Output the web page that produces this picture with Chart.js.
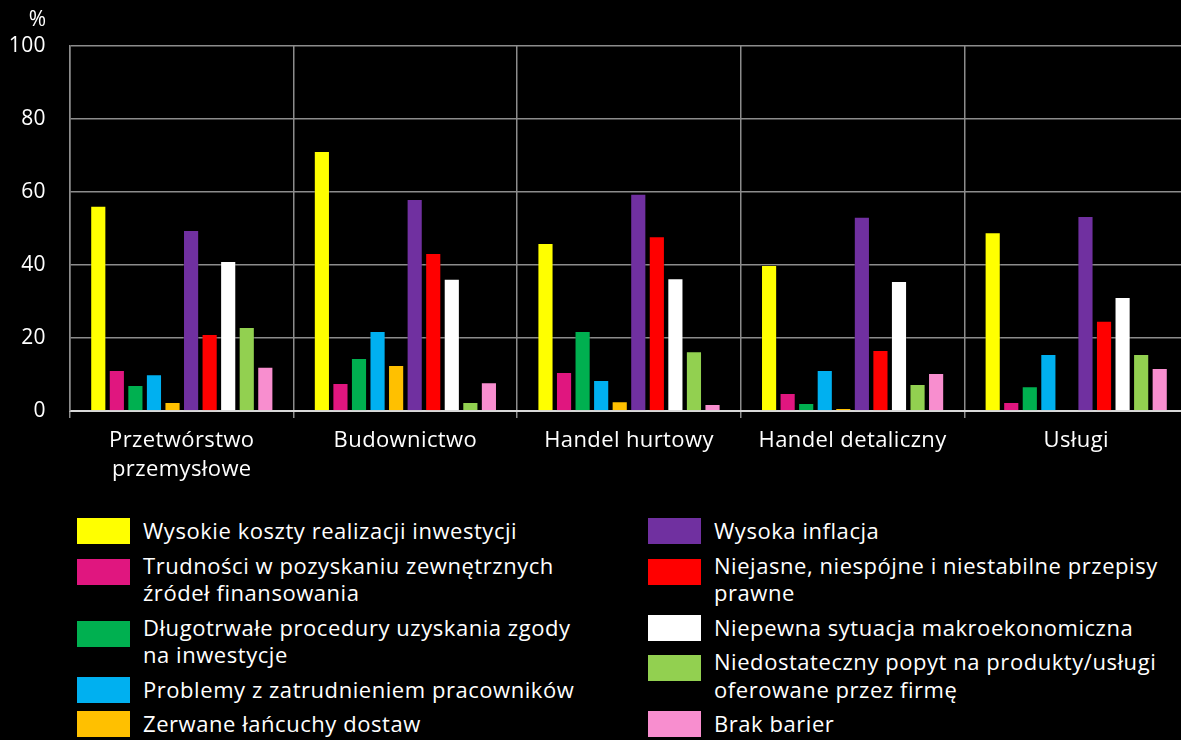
<!DOCTYPE html>
<html>
<head>
<meta charset="utf-8">
<script src="https://cdn.jsdelivr.net/npm/chart.js@4.4.1/dist/chart.umd.min.js"></script>
<style>
  html, body { margin: 0; padding: 0; background: #000; }
  body { width: 1181px; height: 740px; position: relative; overflow: hidden; font-family: "Open Sans", sans-serif; color: #fff; }
  #wrap { position: absolute; left: 0; top: 0; width: 1188px; height: 500px; }
  .legcol { position: absolute; top: 517px; display: flex; flex-direction: column; gap: 7px; }
  .item { display: flex; align-items: flex-start; }
  .sw { width: 53px; height: 26px; flex: none; margin-top: 1px; }
  .item.two .sw { margin-top: 7px; }
  .lbl { font-size: 22px; letter-spacing: 0.55px; line-height: 27.5px; margin-left: 13px; white-space: nowrap; }
</style>
</head>
<body>
<div id="wrap"><canvas id="c"></canvas></div>
<div id="legL" class="legcol" style="left:77px"></div>
<div id="legR" class="legcol" style="left:648px"></div>
<script>
const categories = [["Przetwórstwo", "przemysłowe"], "Budownictwo", "Handel hurtowy", "Handel detaliczny", "Usługi"];
const yTicks = [0, 20, 40, 60, 80, 100];
const seriesLabels = [
  ["Wysokie koszty realizacji inwestycji"],
  ["Trudności w pozyskaniu zewnętrznych", "źródeł finansowania"],
  ["Długotrwałe procedury uzyskania zgody", "na inwestycje"],
  ["Problemy z zatrudnieniem pracowników"],
  ["Zerwane łańcuchy dostaw"],
  ["Wysoka inflacja"],
  ["Niejasne, niespójne i niestabilne przepisy", "prawne"],
  ["Niepewna sytuacja makroekonomiczna"],
  ["Niedostateczny popyt na produkty/usługi", "oferowane przez firmę"],
  ["Brak barier"]
];
const wysokieKoszty   = [56.2, 71.2, 46.0, 40.0, 49.0];
const trudnosciFin    = [11.2, 7.7, 10.7, 4.9, 2.5];
const procedury       = [7.1, 14.5, 21.9, 2.2, 6.8];
const zatrudnienie    = [10.1, 21.9, 8.5, 11.2, 15.6];
const lancuchy        = [2.5, 12.6, 2.7, 0.8, 0];
const inflacja        = [49.6, 58.1, 59.5, 53.2, 53.4];
const przepisy        = [21.1, 43.3, 47.9, 16.7, 24.7];
const makro           = [41.1, 36.2, 36.4, 35.6, 31.2];
const popyt           = [23.0, 2.5, 16.4, 7.4, 15.6];
const brakBarier      = [12.1, 7.9, 1.9, 10.4, 11.8];
const seriesValues = [wysokieKoszty, trudnosciFin, procedury, zatrudnienie, lancuchy, inflacja, przepisy, makro, popyt, brakBarier];
const colors = ["#FFFF00", "#E0167F", "#00B050", "#00B0F0", "#FFC000", "#7030A0", "#FF0000", "#FFFFFF", "#92D050", "#F88ECF"];

const datasets = seriesValues.map((vals, i) => ({
  label: seriesLabels[i].join(" "),
  data: vals,
  backgroundColor: colors[i],
  borderColor: "rgba(0,0,0,0.25)",
  borderWidth: 1,
  barPercentage: 0.87,
  categoryPercentage: 0.83
}));

const unitPlugin = {
  id: "unit",
  beforeDraw(chart) {
    if ("letterSpacing" in chart.ctx) chart.ctx.letterSpacing = "0.4px";
  },
  afterDraw(chart) {
    const ctx = chart.ctx;
    ctx.save();
    ctx.letterSpacing = "0px";
    ctx.fillStyle = "#fff";
    ctx.font = '21px "Open Sans"';
    ctx.textAlign = "right";
    ctx.textBaseline = "middle";
    ctx.fillText("%", 46, 20);
    ctx.restore();
  }
};

Chart.defaults.font.family = '"Open Sans", sans-serif';
Chart.defaults.color = "#fff";

new Chart(document.getElementById("c"), {
  type: "bar",
  data: { labels: categories, datasets },
  options: {
    responsive: true,
    maintainAspectRatio: false,
    animation: false,
    layout: { padding: { top: 46, left: 0, right: 0, bottom: 0 } },
    plugins: { legend: { display: false }, tooltip: { enabled: false } },
    scales: {
      x: {
        grid: { offset: true, color: "#8c8c8c", lineWidth: 1.5, tickLength: 7, drawOnChartArea: true },
        border: { color: "#d9d9d9", width: 2 },
        ticks: { font: { size: 22, lineHeight: 1.33 }, color: "#fff", padding: 8, maxRotation: 0, autoSkip: false },
        afterFit(s) { s.height = 89; }
      },
      y: {
        min: 0, max: 100,
        afterBuildTicks(s) { s.ticks = yTicks.map(v => ({ value: v })); },
        grid: { color: "#8c8c8c", lineWidth: 1.5, drawTicks: false },
        border: { color: "#8c8c8c", width: 1.5 },
        ticks: { font: { size: 21 }, color: "#fff", padding: 24 },
        afterFit(s) { s.width = 70; }
      }
    }
  },
  plugins: [unitPlugin]
});

function buildLegend(el, idxs) {
  idxs.forEach(i => {
    const it = document.createElement("div");
    it.className = "item" + (seriesLabels[i].length > 1 ? " two" : "");
    const sw = document.createElement("div");
    sw.className = "sw";
    sw.style.background = colors[i];
    const lb = document.createElement("div");
    lb.className = "lbl";
    seriesLabels[i].forEach((line, k) => {
      if (k) lb.appendChild(document.createElement("br"));
      lb.appendChild(document.createTextNode(line));
    });
    it.appendChild(sw); it.appendChild(lb);
    el.appendChild(it);
  });
}
buildLegend(document.getElementById("legL"), [0, 1, 2, 3, 4]);
buildLegend(document.getElementById("legR"), [5, 6, 7, 8, 9]);
</script>
</body>
</html>
